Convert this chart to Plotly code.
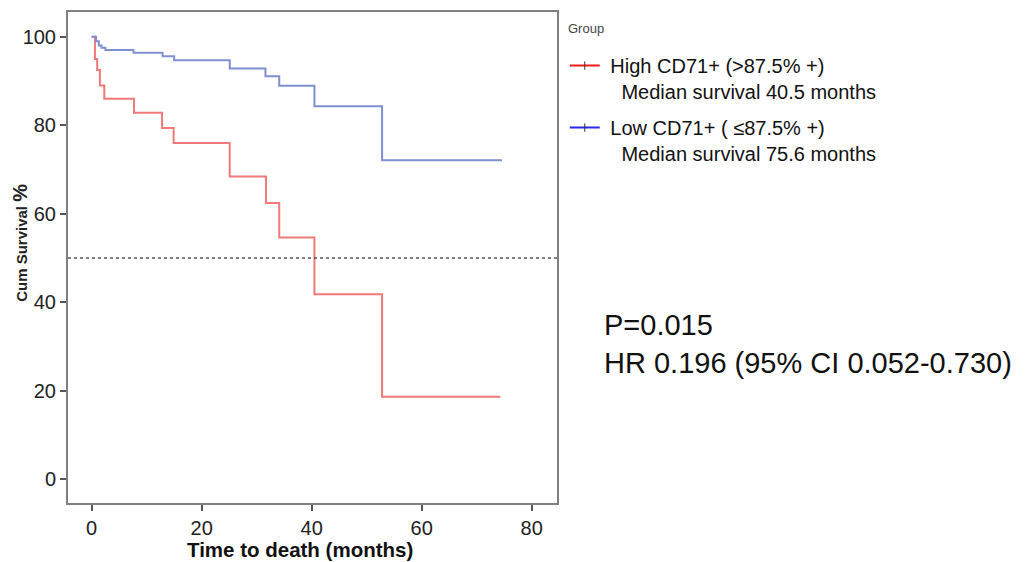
import plotly.graph_objects as go

# Kaplan-Meier step data (months, cumulative survival %)
high_t = [0, 0.6, 1.0, 1.5, 2.3, 7.7, 12.8, 14.9, 25.1, 31.7, 34.1, 40.5, 52.8, 74.3]
high_s = [100, 95.0, 92.5, 89.0, 86.0, 82.8, 79.4, 76.0, 68.4, 62.4, 54.6, 41.8, 18.6, 18.6]

low_t = [0, 0.8, 1.3, 1.8, 2.5, 7.6, 12.9, 15.0, 25.1, 31.6, 34.1, 40.5, 52.8, 74.6]
low_s = [100, 99.0, 98.0, 97.5, 97.0, 96.4, 95.6, 94.7, 92.8, 91.1, 88.9, 84.3, 72.1, 72.1]

x_ticks = [0, 20, 40, 60, 80]
y_ticks = [0, 20, 40, 60, 80, 100]

legend_names = [
    "\u00a0High CD71+ (>87.5% +)<br>\u00a0\u00a0\u00a0Median survival 40.5 months",
    "\u00a0Low CD71+ ( \u226487.5% +)<br>\u00a0\u00a0\u00a0Median survival 75.6 months",
]
stats_text = "P=0.015<br>HR 0.196 (95% CI 0.052-0.730)"

FONT = "Liberation Sans, Arial, sans-serif"

fig = go.Figure()
fig.add_trace(go.Scatter(x=high_t, y=high_s, mode="lines", line=dict(color="#f07a7a", width=2, shape="hv"),
                         showlegend=False, hoverinfo="skip"))
fig.add_trace(go.Scatter(x=low_t, y=low_s, mode="lines", line=dict(color="#7f8fcf", width=2, shape="hv"),
                         showlegend=False, hoverinfo="skip"))
# legend entries
fig.add_trace(go.Scatter(x=[None], y=[None], mode="lines+markers", name=legend_names[0], legendgroup="a",
                         line=dict(color="#ee1c1c", width=2),
                         marker=dict(symbol="line-ns", size=6, line=dict(color="#333", width=1))))
fig.add_trace(go.Scatter(x=[None], y=[None], mode="lines+markers", name=legend_names[1], legendgroup="b",
                         line=dict(color="#2a2ae8", width=2),
                         marker=dict(symbol="line-ns", size=6, line=dict(color="#333", width=1))))

fig.add_hline(y=50, line=dict(color="#555", width=1.5, dash="dot"))

axis_common = dict(showline=True, linecolor="#808080", linewidth=2, mirror=True, ticks="outside",
                   ticklen=6, tickcolor="#555", tickwidth=1.5, showgrid=False, zeroline=False,
                   automargin=False, tickfont=dict(family=FONT, size=20, color="#222"))

fig.update_xaxes(range=[-4.3, 84.6], tickvals=x_ticks, **axis_common)
fig.update_yaxes(range=[-5.4, 105.6], tickvals=y_ticks, **axis_common)

# axis titles
fig.add_annotation(text="<b>Time to death (months)</b>", xref="paper", yref="paper", x=0.474, y=-0.094,
                   xanchor="center", yanchor="middle", showarrow=False,
                   font=dict(family=FONT, size=20.5, color="#111"))
fig.add_annotation(text="<b>Cum Survival <span style='font-size:20px'>%</span></b>", xref="paper", yref="paper",
                   x=-0.098, y=0.53, xanchor="center", yanchor="middle", textangle=-90, showarrow=False,
                   font=dict(family=FONT, size=15, color="#222"))
fig.add_annotation(text="Group", xref="paper", yref="paper", x=1.0184, y=0.9654,
                   xanchor="left", yanchor="middle", showarrow=False,
                   font=dict(family=FONT, size=13, color="#444"))

fig.add_annotation(text=stats_text, xref="paper", yref="paper", x=1.092, y=0.324,
                   xanchor="left", yanchor="middle", align="left", showarrow=False,
                   font=dict(family=FONT, size=29, color="#111"))

fig.update_layout(
    width=1025, height=562,
    margin=dict(l=68, r=468, t=12, b=59, autoexpand=False),
    plot_bgcolor="white", paper_bgcolor="white",
    font=dict(family=FONT),
    legend=dict(xref="container", yref="container", x=0.551, y=0.918, xanchor="left", yanchor="top",
                font=dict(family=FONT, size=20, color="#111"), valign="top",
                itemwidth=30, tracegroupgap=7, bgcolor="rgba(0,0,0,0)"),
)

fig.write_html("out.html")
